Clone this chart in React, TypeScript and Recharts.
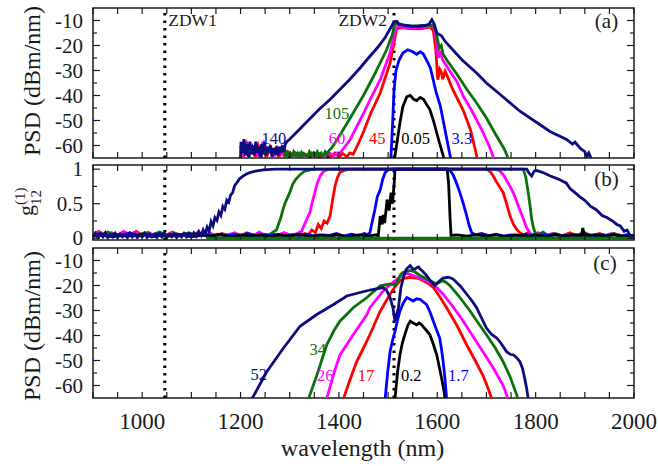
import React from "react";
import {
  Line,
  LineChart,
  ReferenceArea,
  ReferenceDot,
  ReferenceLine,
  XAxis,
  YAxis,
} from "recharts";

type Pt = [number, number];

const SERIF = "'Liberation Serif', 'Times New Roman', 'DejaVu Serif', serif";
const INK = "#1a1a1a";
const NAVY = "#0c0c80";
const GREEN = "#0b720b";
const MAGENTA = "#ff00ff";
const RED = "#ff0000";
const BLUE = "#0000ff";
const BLACK = "#000000";

const W = 658;
const H = 466;
const PLOT_LEFT = 93;
const PLOT_RIGHT = 634;

// axes
const xDomain: [number, number] = [900, 2000];
const xTicks = [900, 950, 1000, 1050, 1100, 1150, 1200, 1250, 1300, 1350, 1400, 1450, 1500, 1550, 1600, 1650, 1700, 1750, 1800, 1850, 1900, 1950, 2000];
const xLabelTicks = [1000, 1200, 1400, 1600, 1800, 2000];
const psdDomain: [number, number] = [-65, -5];
const psdTicks = [-60, -55, -50, -45, -40, -35, -30, -25, -20, -15, -10];
const psdLabelTicks = [-60, -50, -40, -30, -20, -10];
const gDomain: [number, number] = [-0.025, 1.06];
const gTicks = [0, 0.25, 0.5, 0.75, 1];
const gLabelTicks = [0, 0.5, 1];
const zdw = [1046, 1512];

// (a) input spectra, PSD in dBm/nm
const navyA: Pt[] = [
  [1200, -65], [1201, -58.5], [1204, -63], [1207, -57.5], [1210, -64], [1213, -59.5], [1216, -64.5], [1219, -58.5],
  [1222, -63.5], [1225, -60], [1228, -64], [1231, -58.5], [1234, -63], [1237, -60.5], [1240, -64.5], [1243, -59.5],
  [1246, -63.5], [1249, -59], [1252, -64], [1255, -60.5], [1258, -63], [1261, -60], [1264, -64.5], [1267, -61],
  [1270, -63.5], [1273, -60.5], [1276, -64], [1279, -60.5], [1282, -63], [1285, -60], [1288, -62.5], [1291, -59.5],
  [1294, -58.5], [1300, -57.5], [1320, -53.5], [1340, -49.5], [1360, -45.5], [1382, -41.6], [1400, -38], [1420, -34],
  [1443, -29], [1460, -25], [1480, -20.5], [1495, -16.5], [1505, -13], [1512, -10.6], [1518, -10.3], [1522, -11.5],
  [1530, -11.8], [1545, -12.2], [1560, -12.3], [1575, -12], [1583, -11.5], [1589, -9.7], [1594, -11.5], [1599, -15],
  [1604, -15.6], [1609, -16.2], [1616, -18.4], [1650, -25.7], [1680, -31], [1700, -35], [1728, -39.6], [1768, -46.3],
  [1800, -50.5], [1830, -54.5], [1863, -57.6], [1875, -59.5], [1880, -58.6], [1890, -61], [1900, -62.5], [1904, -64.4],
  [1908, -63], [1912, -64.8], [1915, -67],
];
const greenA: Pt[] = [
  [1290, -65], [1292, -62.5], [1296, -64], [1300, -63], [1304, -64.5], [1308, -62.5], [1312, -64], [1316, -63],
  [1320, -64.5], [1324, -62.8], [1328, -64], [1332, -63.5], [1336, -64.5], [1340, -62.5], [1344, -64], [1348, -63],
  [1352, -64.5], [1356, -62.5], [1360, -64], [1364, -63], [1368, -64.5], [1372, -62.5], [1376, -63.5], [1380, -62],
  [1385, -61], [1392, -59], [1400, -56.5], [1420, -50], [1449, -40.3], [1470, -32.5], [1497, -21.7], [1508, -16],
  [1514, -11.3], [1520, -11.1], [1530, -11.9], [1550, -12.3], [1570, -12.1], [1585, -11.8], [1592, -12], [1596, -13.5],
  [1600, -17], [1604, -21], [1608, -20], [1612, -23.5], [1620, -26], [1640, -31.5], [1660, -37.5], [1680, -43],
  [1700, -49], [1720, -56], [1735, -61], [1742, -64], [1745, -67],
];
const magentaA: Pt[] = [
  [1200, -62], [1205, -64], [1212, -59.5], [1220, -63], [1228, -60.5], [1236, -64], [1244, -59.5], [1252, -63.5],
  [1260, -61.5], [1268, -64.5], [1276, -61], [1284, -63.5], [1292, -64.5], [1300, -62.8], [1310, -64.5], [1320, -63],
  [1330, -64.5], [1340, -63.2], [1350, -64.6], [1360, -63.3], [1370, -64.5], [1380, -63], [1390, -64], [1396, -63],
  [1402, -63], [1412, -60.5], [1423, -57.6], [1449, -47.6], [1465, -41], [1484, -33.7], [1504, -23], [1514, -14.4],
  [1520, -12], [1530, -12.7], [1550, -13], [1570, -12.8], [1588, -12.3], [1594, -13], [1598, -17.5], [1602, -25],
  [1606, -22], [1610, -25.5], [1615, -27], [1620, -28.5], [1640, -34.5], [1653, -40.3], [1670, -46], [1690, -53.5],
  [1705, -60], [1713, -64], [1716, -67],
];
const redA: Pt[] = [
  [1200, -61], [1206, -64], [1212, -59.5], [1218, -63], [1224, -61], [1230, -64.5], [1236, -60], [1242, -63.5],
  [1248, -61.5], [1254, -64], [1260, -60.5], [1266, -63], [1272, -61], [1278, -64.5], [1284, -62], [1290, -64],
  [1296, -62.5], [1304, -64.5], [1312, -63], [1320, -64.8], [1328, -63.2], [1336, -64.6], [1344, -63], [1352, -64.5],
  [1360, -63.4], [1368, -64.7], [1376, -62.8], [1384, -64.5], [1392, -63], [1400, -64.6], [1408, -63.2], [1416, -64.5],
  [1422, -63], [1429, -63.5], [1440, -59], [1449, -55], [1465, -47], [1484, -39], [1504, -27], [1512, -19],
  [1517, -13.5], [1525, -12.8], [1545, -13.2], [1565, -13.3], [1585, -12.6], [1592, -14], [1597, -21.7], [1601, -33.7],
  [1605, -29.5], [1608, -30.5], [1611, -33.5], [1616, -30.3], [1622, -33], [1630, -37], [1653, -46], [1668, -54],
  [1680, -64], [1683, -67],
];
const blueA: Pt[] = [
  [1200, -60], [1206, -63.5], [1212, -58.5], [1218, -64], [1224, -60.5], [1230, -63], [1236, -61], [1242, -64.5],
  [1248, -59.5], [1254, -63], [1260, -61.5], [1266, -64], [1272, -62], [1278, -64.5], [1284, -61], [1290, -64.5],
  [1295, -67], [1505, -67], [1507, -60], [1509, -52], [1512, -38], [1516, -30], [1522, -26], [1530, -23],
  [1540, -21.7], [1550, -22.5], [1558, -23.5], [1566, -22.5], [1572, -23.5], [1580, -26.5], [1586, -29], [1592, -34],
  [1598, -39], [1606, -44], [1612, -50], [1620, -58], [1626, -64], [1629, -67],
];
const blackA: Pt[] = [
  [1290, -67], [1300, -64.5], [1310, -63], [1320, -64.8], [1330, -63.5], [1340, -64.7], [1350, -63], [1360, -64.6],
  [1370, -63.5], [1380, -64.8], [1390, -67], [1512, -67], [1514, -64], [1518, -59], [1524, -51], [1530, -44.5],
  [1538, -40.5], [1545, -40], [1552, -41.5], [1558, -42], [1565, -40.8], [1572, -41.5], [1578, -43.5], [1585, -45.6],
  [1592, -50], [1599, -55], [1606, -60], [1612, -64], [1615, -67],
];

// (b) degree of coherence g12
const navyB: Pt[] = [
  [900, 0.02], [905, 0.07], [910, 0.01], [915, 0.06], [920, 0.02], [925, 0.08], [930, 0.01], [935, 0.05],
  [940, 0.02], [945, 0.07], [950, 0.01], [955, 0.06], [960, 0.02], [965, 0.05], [970, 0.01], [975, 0.07],
  [980, 0.02], [985, 0.06], [990, 0.01], [995, 0.05], [1000, 0.02], [1005, 0.07], [1010, 0.01], [1015, 0.06],
  [1020, 0.02], [1025, 0.05], [1030, 0.01], [1035, 0.06], [1040, 0.02], [1045, 0.07], [1050, 0.01], [1055, 0.05],
  [1060, 0.02], [1065, 0.06], [1070, 0.01], [1075, 0.05], [1080, 0.02], [1085, 0.07], [1090, 0.02], [1095, 0.06],
  [1100, 0.02], [1105, 0.08], [1110, 0.03], [1115, 0.1], [1120, 0.04], [1124, 0.12], [1128, 0.06], [1132, 0.16],
  [1136, 0.1], [1140, 0.24], [1144, 0.18], [1148, 0.3], [1152, 0.26], [1156, 0.38], [1160, 0.33], [1164, 0.46],
  [1168, 0.42], [1172, 0.55], [1176, 0.52], [1180, 0.63], [1184, 0.66], [1188, 0.76], [1192, 0.8], [1198, 0.86],
  [1205, 0.9], [1212, 0.93], [1219, 0.95], [1230, 0.97], [1246, 0.99], [1270, 1], [1782, 1], [1786, 0.95],
  [1792, 0.9], [1797, 0.97], [1802, 0.98], [1815, 0.95], [1830, 0.9], [1845, 0.86], [1856, 0.82], [1862, 0.8],
  [1870, 0.72], [1880, 0.66], [1890, 0.6], [1900, 0.55], [1912, 0.46], [1924, 0.41], [1935, 0.33], [1945, 0.3],
  [1958, 0.24], [1965, 0.2], [1972, 0.18], [1980, 0.1], [1986, 0.12], [1992, 0.04], [2000, 0.03],
];
const greenB: Pt[] = [
  [900, 0.08], [915, 0.04], [930, 0.09], [945, 0.05], [960, 0.03], [975, 0.07], [990, 0.04], [1005, 0.08],
  [1020, 0.05], [1035, 0.09], [1050, 0.04], [1065, 0.07], [1080, 0.05], [1095, 0.08], [1110, 0.04], [1125, 0.06],
  [1140, 0.03], [1155, 0.05], [1170, 0.04], [1185, 0.06], [1200, 0.03], [1215, 0.05], [1230, 0.04], [1245, 0.06],
  [1258, 0.05], [1266, 0.09], [1273, 0.12], [1278, 0.22], [1282, 0.3], [1286, 0.41], [1290, 0.5], [1295, 0.58],
  [1300, 0.66], [1306, 0.78], [1312, 0.85], [1321, 0.92], [1330, 0.97], [1341, 0.99], [1350, 1], [1775, 1],
  [1780, 0.88], [1785, 0.66], [1789, 0.45], [1792, 0.27], [1796, 0.14], [1799, 0.08], [1805, 0.05], [1815, 0.09],
  [1825, 0.04], [1840, 0.07], [1855, 0.03], [1870, 0.06], [1885, 0.04], [1900, 0.08], [1915, 0.03], [1930, 0.06],
  [1945, 0.04], [1960, 0.07], [1975, 0.03], [1990, 0.05], [2000, 0.02],
];
const greenFloorB: Pt[] = [[1130, 0], [2000, 0]];
const magentaB: Pt[] = [
  [900, 0.05], [912, 0.09], [925, 0.03], [938, 0.07], [950, 0.04], [962, 0.1], [975, 0.05], [988, 0.08],
  [1000, 0.03], [1012, 0.09], [1025, 0.04], [1038, 0.07], [1050, 0.03], [1062, 0.08], [1075, 0.05], [1088, 0.07],
  [1100, 0.03], [1112, 0.06], [1125, 0.04], [1138, 0.08], [1150, 0.03], [1162, 0.06], [1175, 0.05], [1188, 0.08],
  [1200, 0.04], [1212, 0.06], [1225, 0.03], [1238, 0.09], [1250, 0.04], [1262, 0.06], [1275, 0.03], [1288, 0.08],
  [1300, 0.04], [1310, 0.05], [1318, 0.08], [1324, 0.1], [1330, 0.2], [1336, 0.3], [1341, 0.37], [1345, 0.5],
  [1351, 0.66], [1356, 0.8], [1362, 0.9], [1368, 0.96], [1375, 0.99], [1385, 1], [1720, 1], [1728, 0.97],
  [1736, 0.9], [1742, 0.82], [1748, 0.75], [1755, 0.65], [1762, 0.52], [1768, 0.41], [1775, 0.28], [1782, 0.15],
  [1787, 0.09], [1792, 0.05], [1805, 0.08], [1820, 0.04], [1835, 0.07], [1850, 0.03], [1865, 0.06], [1880, 0.04],
  [1895, 0.07], [1910, 0.03], [1925, 0.06], [1940, 0.04], [1955, 0.07], [1970, 0.03], [1985, 0.05], [2000, 0.03],
];
const redB: Pt[] = [
  [900, 0.06], [912, 0.1], [925, 0.04], [938, 0.08], [950, 0.03], [962, 0.09], [975, 0.05], [988, 0.1],
  [1000, 0.04], [1012, 0.07], [1025, 0.03], [1038, 0.08], [1050, 0.05], [1062, 0.09], [1075, 0.04], [1088, 0.07],
  [1100, 0.03], [1112, 0.08], [1125, 0.05], [1138, 0.06], [1150, 0.03], [1162, 0.07], [1175, 0.04], [1188, 0.06],
  [1200, 0.03], [1212, 0.08], [1225, 0.05], [1238, 0.07], [1250, 0.03], [1262, 0.06], [1275, 0.04], [1288, 0.08],
  [1300, 0.05], [1312, 0.06], [1322, 0.04], [1330, 0.07], [1338, 0.05], [1345, 0.12], [1352, 0.08], [1358, 0.2],
  [1364, 0.14], [1370, 0.25], [1376, 0.22], [1382, 0.32], [1387, 0.55], [1392, 0.75], [1397, 0.88], [1402, 0.95],
  [1409, 0.98], [1416, 0.99], [1425, 1], [1700, 1], [1707, 0.97], [1714, 0.9], [1720, 0.82], [1727, 0.74],
  [1734, 0.66], [1741, 0.5], [1748, 0.32], [1755, 0.2], [1762, 0.12], [1768, 0.08], [1775, 0.05], [1785, 0.08],
  [1795, 0.04], [1810, 0.07], [1825, 0.03], [1840, 0.06], [1855, 0.04], [1870, 0.08], [1885, 0.03], [1900, 0.06],
  [1915, 0.04], [1930, 0.07], [1945, 0.03], [1960, 0.06], [1975, 0.04], [1990, 0.05], [2000, 0.02],
];
const blueB: Pt[] = [
  [900, 0.04], [915, 0.07], [930, 0.03], [945, 0.06], [960, 0.04], [975, 0.08], [990, 0.03], [1005, 0.06],
  [1020, 0.04], [1035, 0.07], [1050, 0.03], [1065, 0.06], [1080, 0.04], [1095, 0.07], [1110, 0.03], [1125, 0.05],
  [1140, 0.04], [1155, 0.06], [1170, 0.03], [1185, 0.05], [1200, 0.04], [1215, 0.07], [1230, 0.03], [1245, 0.05],
  [1260, 0.04], [1275, 0.06], [1290, 0.03], [1305, 0.05], [1320, 0.04], [1335, 0.06], [1350, 0.03], [1365, 0.05],
  [1380, 0.04], [1395, 0.07], [1410, 0.03], [1425, 0.06], [1440, 0.04], [1452, 0.07], [1458, 0.05], [1463, 0.08],
  [1468, 0.25], [1473, 0.41], [1478, 0.6], [1484, 0.7], [1489, 0.85], [1494, 0.95], [1500, 0.99], [1508, 1],
  [1620, 1], [1626, 0.98], [1632, 0.92], [1638, 0.82], [1646, 0.66], [1653, 0.5], [1660, 0.32], [1665, 0.18],
  [1670, 0.08], [1678, 0.05], [1690, 0.07], [1705, 0.04], [1720, 0.06], [1735, 0.03], [1750, 0.05], [1765, 0.04],
  [1780, 0.06], [1795, 0.03], [1810, 0.05], [1825, 0.04], [1840, 0.06], [1855, 0.03], [1870, 0.05], [1885, 0.04],
  [1900, 0.06], [1915, 0.03], [1930, 0.05], [1945, 0.04], [1960, 0.06], [1975, 0.03], [1990, 0.05], [2000, 0.03],
];
const blackB: Pt[] = [
  [900, 0.03], [920, 0.05], [940, 0.02], [960, 0.05], [980, 0.03], [1000, 0.06], [1020, 0.02], [1040, 0.05],
  [1060, 0.03], [1080, 0.05], [1100, 0.02], [1120, 0.05], [1140, 0.03], [1160, 0.06], [1180, 0.02], [1200, 0.05],
  [1220, 0.03], [1240, 0.05], [1260, 0.02], [1280, 0.05], [1300, 0.03], [1320, 0.06], [1340, 0.02], [1360, 0.05],
  [1380, 0.03], [1400, 0.05], [1420, 0.02], [1440, 0.05], [1460, 0.03], [1476, 0.05], [1480, 0.03], [1484, 0.32],
  [1488, 0.2], [1490, 0.34], [1493, 0.22], [1498, 0.56], [1502, 0.4], [1506, 0.66], [1509, 0.5], [1513, 0.85],
  [1514, 1], [1620, 1], [1623, 0.8], [1626, 0.3], [1628, 0.04], [1640, 0.05], [1660, 0.03], [1680, 0.05],
  [1700, 0.03], [1720, 0.05], [1740, 0.02], [1760, 0.05], [1780, 0.03], [1800, 0.05], [1820, 0.02], [1840, 0.05],
  [1860, 0.03], [1880, 0.05], [1893, 0.04], [1896, 0.15], [1899, 0.04], [1920, 0.05], [1940, 0.03], [1960, 0.05],
  [1980, 0.02], [2000, 0.04],
];

// (c) output spectra
const navyC: Pt[] = [
  [1218, -68], [1223, -65.4], [1253, -54.6], [1287, -45.1], [1321, -36.3], [1355, -31.6], [1389, -27.6], [1416, -24.2],
  [1443, -22.8], [1463, -21.8], [1490, -20.8], [1497, -22], [1504, -24.8], [1510, -29], [1514, -34.3], [1517, -32],
  [1521, -28.9], [1526, -21], [1531, -16.7], [1537, -13.5], [1541, -12.7], [1545, -12], [1550, -13.4], [1555, -13.4],
  [1559, -12.8], [1562, -12.6], [1566, -13.6], [1569, -14], [1572, -14.7], [1576, -15.5], [1581, -16.7], [1588, -18.5],
  [1595, -20.1], [1600, -19], [1605, -18.1], [1612, -17], [1622, -16.7], [1630, -17.2], [1636, -18.1], [1648, -20.5],
  [1660, -23.5], [1670, -26], [1680, -28.9], [1690, -33], [1700, -37], [1710, -39.5], [1721, -41], [1731, -43.5],
  [1741, -46.5], [1748, -47.5], [1755, -47.8], [1762, -49], [1768, -50.5], [1773, -53], [1778, -57.3], [1782, -61.5],
  [1785, -65.4], [1787, -68],
];
const greenC: Pt[] = [
  [1334, -68], [1338, -65.4], [1355, -56], [1375, -43.8], [1390, -38], [1402, -34.3], [1429, -28.9], [1457, -24.8],
  [1484, -20.1], [1504, -19.4], [1510, -19.6], [1514, -20], [1520, -18], [1526, -15.5], [1531, -14.7], [1545, -14],
  [1555, -14.6], [1565, -16], [1575, -17], [1585, -18.1], [1599, -19.4], [1605, -18.6], [1612, -18.1], [1618, -18.8],
  [1626, -20.1], [1645, -24.5], [1667, -30.3], [1685, -35.5], [1700, -39.7], [1718, -45], [1734, -50.5], [1748, -56.5],
  [1762, -64], [1765, -68],
];
const magentaC: Pt[] = [
  [1371, -68], [1375, -65.4], [1390, -55], [1402, -47.8], [1429, -39.7], [1457, -31.6], [1463, -28.9], [1490, -22.2],
  [1514, -18.1], [1531, -15.4], [1540, -15.2], [1551, -16], [1570, -17.5], [1585, -18.8], [1600, -21], [1612, -23.5],
  [1632, -28.5], [1653, -34.3], [1673, -40.5], [1693, -46.5], [1714, -53], [1734, -60], [1744, -65.4], [1746, -68],
];
const redC: Pt[] = [
  [1405, -68], [1409, -65.4], [1422, -58], [1436, -50.5], [1450, -45], [1463, -39.7], [1484, -30.3], [1504, -23.5],
  [1514, -20.5], [1524, -18.1], [1535, -17], [1545, -16.7], [1555, -17], [1565, -17.4], [1580, -19], [1592, -20.8],
  [1605, -24.5], [1619, -28.9], [1640, -36], [1660, -43.8], [1677, -50], [1693, -56], [1703, -61], [1711, -65.4],
  [1713, -68],
];
const blueC: Pt[] = [
  [1492, -68], [1494, -65.4], [1499, -55], [1504, -46.5], [1509, -42], [1514, -38.4], [1519, -34], [1524, -30.3],
  [1531, -27], [1538, -24.8], [1545, -25.5], [1551, -26.2], [1558, -25.3], [1565, -25.5], [1571, -26.5], [1578, -27.6],
  [1585, -30.5], [1592, -34.3], [1599, -38], [1605, -41], [1609, -46], [1612, -50.5], [1616, -58], [1619, -65.4],
  [1621, -68],
];
const blackC: Pt[] = [
  [1512, -68], [1514, -65.4], [1519, -55], [1524, -47.8], [1529, -43], [1534, -39.7], [1540, -36], [1545, -34.3],
  [1551, -35], [1558, -35.7], [1563, -35], [1568, -35.7], [1576, -37.5], [1585, -39.7], [1592, -43.5], [1599, -47.8],
  [1604, -52.5], [1609, -57.3], [1613, -61.5], [1616, -65.4], [1618, -68],
];

// curve annotations: [text, wavelength, value, colour]
const notesA: [string, number, number, string][] = [
  ["140", 1268, -57, NAVY],
  ["105", 1396, -47.2, GREEN],
  ["60", 1396, -57.2, MAGENTA],
  ["45", 1478, -57.2, RED],
  ["0.05", 1556, -57.2, BLACK],
  ["3.3", 1650, -57.2, BLUE],
];
const notesC: [string, number, number, string][] = [
  ["52", 1237, -55.6, NAVY],
  ["34", 1357, -45.4, GREEN],
  ["26", 1372, -55.7, MAGENTA],
  ["17", 1455, -55.7, RED],
  ["0.2", 1547, -55.7, BLACK],
  ["1.7", 1643, -55.7, BLUE],
];

type Series = { color: string; pts: Pt[] };

const seriesA: Series[] = [
  { color: BLACK, pts: blackA },
  { color: BLUE, pts: blueA },
  { color: RED, pts: redA },
  { color: MAGENTA, pts: magentaA },
  { color: GREEN, pts: greenA },
  { color: NAVY, pts: navyA },
];
const seriesB: Series[] = [
  { color: RED, pts: redB },
  { color: MAGENTA, pts: magentaB },
  { color: GREEN, pts: greenB },
  { color: BLUE, pts: blueB },
  { color: BLACK, pts: blackB },
  { color: GREEN, pts: greenFloorB },
  { color: NAVY, pts: navyB },
];
const seriesC: Series[] = [
  { color: BLACK, pts: blackC },
  { color: BLUE, pts: blueC },
  { color: RED, pts: redC },
  { color: MAGENTA, pts: magentaC },
  { color: GREEN, pts: greenC },
  { color: NAVY, pts: navyC },
];

const toRows = (pts: Pt[]) => pts.map(([x, y]) => ({ x, y }));

const txt = { fontFamily: SERIF };

const xTick = (top: number, showLabels: boolean) => (props: any) => {
  const { x, y, payload } = props;
  const v = Number(payload.value);
  return (
    <g>
      <line x1={x} x2={x} y1={y} y2={y - 6} stroke={INK} strokeWidth={1.2} />
      <line x1={x} x2={x} y1={top} y2={top + 6} stroke={INK} strokeWidth={1.2} />
      {showLabels && xLabelTicks.includes(v) && (
        <text x={x} y={y + 31} textAnchor="middle" fontSize={23} style={txt} fill={INK}>
          {v}
        </text>
      )}
    </g>
  );
};

const yTick = (labels: number[]) => (props: any) => {
  const { x, y, payload } = props;
  const v = Number(payload.value);
  const major = labels.includes(v);
  const len = major ? 7 : 4;
  return (
    <g>
      <line x1={x} x2={x + len} y1={y} y2={y} stroke={INK} strokeWidth={1.2} />
      <line x1={PLOT_RIGHT} x2={PLOT_RIGHT - len} y1={y} y2={y} stroke={INK} strokeWidth={1.2} />
      {major && (
        <text x={x - 10} y={y} dy="0.34em" textAnchor="end" fontSize={21} style={txt} fill={INK}>
          {v}
        </text>
      )}
    </g>
  );
};

const titleA = () => (
  <g style={txt} fill={INK}>
    <text transform="translate(40, 81) rotate(-90)" textAnchor="middle" fontSize={24} style={txt}>
      PSD (dBm/nm)
    </text>
    <text x={606.5} y={27.5} textAnchor="middle" fontSize={21} style={txt}>(a)</text>
  </g>
);

const titleB = () => (
  <g style={txt} fill={INK}>
    <text transform="translate(33, 216) rotate(-90)" fontSize={22} style={txt}>
      <tspan x={0} y={0}>g</tspan>
      <tspan x={11} y={8} fontSize={15}>12</tspan>
      <tspan x={11} y={-8} fontSize={15}>(1)</tspan>
    </text>
    <text x={606.5} y={186} textAnchor="middle" fontSize={21} style={txt}>(b)</text>
  </g>
);

const titleC = () => (
  <g style={txt} fill={INK}>
    <text transform="translate(40, 326) rotate(-90)" textAnchor="middle" fontSize={24} style={txt}>
      PSD (dBm/nm)
    </text>
    <text x={605} y={270} textAnchor="middle" fontSize={21} style={txt}>(c)</text>
    <text x={362.5} y={456} textAnchor="middle" fontSize={24} style={txt}>wavelength (nm)</text>
  </g>
);

const zdwLabel = (text: string, right: boolean) => (props: any) => {
  const vb = props.viewBox;
  return (
    <text
      x={right ? vb.x - 7 : vb.x + 3.5}
      y={vb.y + 18}
      textAnchor={right ? "end" : "start"}
      fontSize={17.5}
      style={txt}
      fill={INK}
    >
      {text}
    </text>
  );
};

function Panel(props: {
  top: number;
  bottom: number;
  domain: [number, number];
  yTicks: number[];
  yLabels: number[];
  showX: boolean;
  series: Series[];
  notes: [string, number, number, string][];
  zdwText: boolean;
  title: () => React.ReactElement;
}) {
  const { top, bottom, domain, yTicks, yLabels, showX, series, notes, zdwText, title } = props;
  return (
    <div style={{ position: "absolute", left: 0, top: 0 }}>
      <LineChart
        width={W}
        height={H}
        margin={{ top, right: W - PLOT_RIGHT, bottom: H - bottom - 1, left: 0 }}
        style={txt}
      >
        <XAxis
          type="number"
          dataKey="x"
          domain={xDomain}
          ticks={xTicks}
          interval={0}
          allowDataOverflow
          height={1}
          tickSize={0}
          tickMargin={0}
          tickLine={false}
          axisLine={false}
          tick={xTick(top, showX)}
        />
        <YAxis
          type="number"
          domain={domain}
          ticks={yTicks}
          interval={0}
          allowDataOverflow
          width={PLOT_LEFT}
          tickSize={0}
          tickMargin={0}
          tickLine={false}
          axisLine={false}
          tick={yTick(yLabels)}
          label={title}
        />
        <ReferenceArea
          x1={xDomain[0]}
          x2={xDomain[1]}
          y1={domain[0]}
          y2={domain[1]}
          fill="none"
          stroke={INK}
          strokeWidth={1.5}
          ifOverflow="visible"
        />
        {zdw.map((z, i) => (
          <ReferenceLine
            key={z}
            x={z}
            stroke={BLACK}
            strokeWidth={3}
            strokeDasharray="2.6 4.9"
            label={zdwText ? zdwLabel(i === 0 ? "ZDW1" : "ZDW2", i === 1) : undefined}
          />
        ))}
        {series.map((s, i) => (
          <Line
            key={i}
            data={toRows(s.pts)}
            dataKey="y"
            type="linear"
            stroke={s.color}
            strokeWidth={2.8}
            dot={false}
            activeDot={false}
            isAnimationActive={false}
          />
        ))}
        {notes.map(([text, x, y, color]) => (
          <ReferenceDot
            key={text}
            x={x}
            y={y}
            r={0}
            fill="none"
            stroke="none"
            label={{ value: text, position: "center", fill: color, fontSize: 16.5, style: txt }}
          />
        ))}
      </LineChart>
    </div>
  );
}

export default function App() {
  return (
    <div style={{ position: "absolute", left: 0, top: 0, width: W, height: H, background: "#fff" }}>
      <Panel
        top={8}
        bottom={158}
        domain={psdDomain}
        yTicks={psdTicks}
        yLabels={psdLabelTicks}
        showX={false}
        series={seriesA}
        notes={notesA}
        zdwText
        title={titleA}
      />
      <Panel
        top={165}
        bottom={240}
        domain={gDomain}
        yTicks={gTicks}
        yLabels={gLabelTicks}
        showX={false}
        series={seriesB}
        notes={[]}
        zdwText={false}
        title={titleB}
      />
      <Panel
        top={248}
        bottom={398}
        domain={psdDomain}
        yTicks={psdTicks}
        yLabels={psdLabelTicks}
        showX
        series={seriesC}
        notes={notesC}
        zdwText={false}
        title={titleC}
      />
    </div>
  );
}
